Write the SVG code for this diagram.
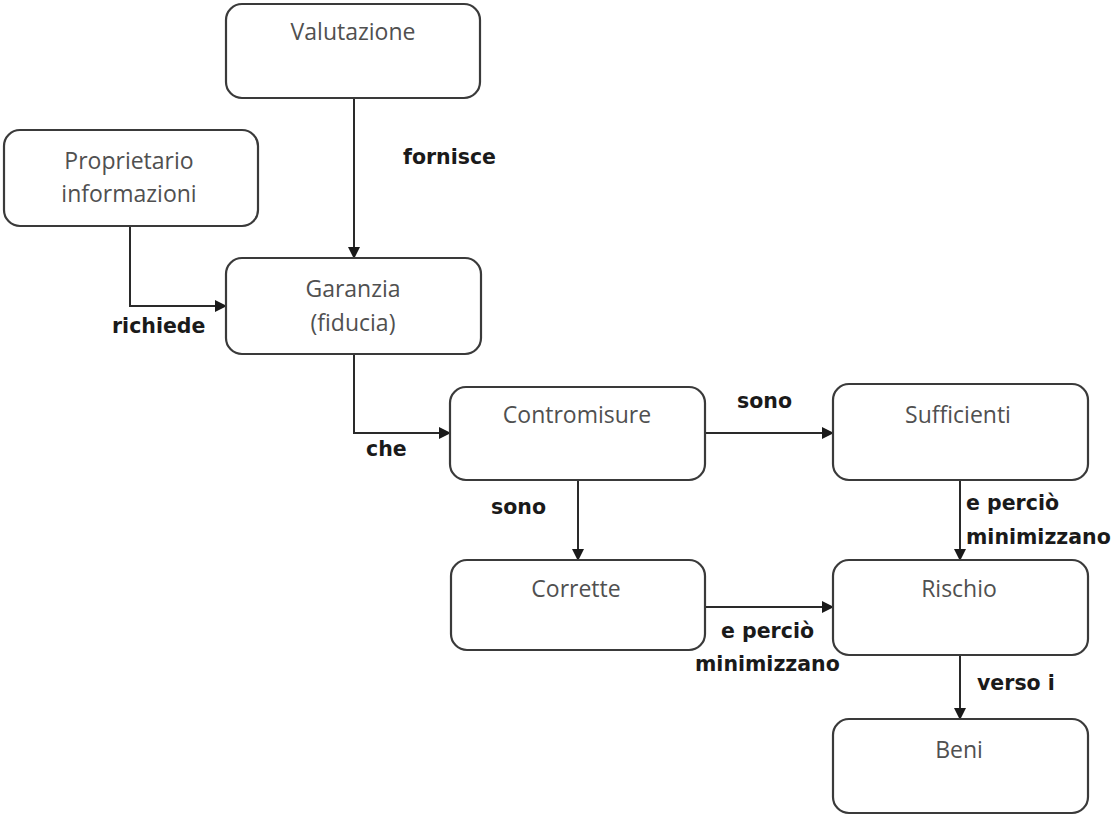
<svg xmlns="http://www.w3.org/2000/svg" width="1118" height="816" viewBox="0 0 1118 816">
<style>
.box{fill:#fff;stroke:#3a3a3a;stroke-width:2.2}
.nt{font-family:"Open Sans","Liberation Sans",sans-serif;font-size:23px;fill:#505050;text-anchor:middle}
.lb{font-family:"DejaVu Sans","Liberation Sans",sans-serif;font-weight:bold;font-size:20.5px;fill:#1a1a1a}
.cn{fill:none;stroke:#2a2a2a;stroke-width:2}
</style>
<defs>
<marker id="ah" markerUnits="userSpaceOnUse" markerWidth="12" markerHeight="12" refX="11" refY="6" orient="auto">
<path d="M0,0 L12,6 L0,12 z" fill="#1a1a1a"/>
</marker>
</defs>
<rect width="1118" height="816" fill="#fff"/>
<g id="connectors">
<path class="cn" d="M354,98 V258" marker-end="url(#ah)"/>
<path class="cn" d="M130,227 V306 H226" marker-end="url(#ah)"/>
<path class="cn" d="M354,355 V433 H450" marker-end="url(#ah)"/>
<path class="cn" d="M705,433 H833" marker-end="url(#ah)"/>
<path class="cn" d="M578,480 V560" marker-end="url(#ah)"/>
<path class="cn" d="M960,480 V560" marker-end="url(#ah)"/>
<path class="cn" d="M705,607 H833" marker-end="url(#ah)"/>
<path class="cn" d="M960,655 V719" marker-end="url(#ah)"/>
<text class="lb" x="403" y="164">fornisce</text>
<text class="lb" x="112" y="333">richiede</text>
<text class="lb" x="366" y="456">che</text>
<text class="lb" x="737" y="408">sono</text>
<text class="lb" x="491" y="514">sono</text>
<text class="lb" x="966" y="510">e perciò</text>
<text class="lb" x="966" y="544">minimizzano</text>
<text class="lb" x="721" y="638">e perciò</text>
<text class="lb" x="695" y="671">minimizzano</text>
<text class="lb" x="977" y="690">verso i</text>
</g>
<g id="valutazione">
<rect class="box" x="226" y="4" width="254" height="94" rx="16"/>
<text class="nt" x="353" y="40">Valutazione</text>
</g>
<g id="proprietario">
<rect class="box" x="4" y="130" width="254" height="96" rx="16"/>
<text class="nt" x="129" y="169">Proprietario</text>
<text class="nt" x="129" y="202">informazioni</text>
</g>
<g id="garanzia">
<rect class="box" x="226" y="258" width="255" height="96" rx="16"/>
<text class="nt" x="353" y="297">Garanzia</text>
<text class="nt" x="353" y="331">(fiducia)</text>
</g>
<g id="contromisure">
<rect class="box" x="450" y="387" width="255" height="93" rx="16"/>
<text class="nt" x="577" y="423">Contromisure</text>
</g>
<g id="sufficienti">
<rect class="box" x="833" y="384" width="255" height="96" rx="16"/>
<text class="nt" x="958" y="423">Sufficienti</text>
</g>
<g id="corrette">
<rect class="box" x="451" y="560" width="254" height="90" rx="16"/>
<text class="nt" x="576" y="597">Corrette</text>
</g>
<g id="rischio">
<rect class="box" x="833" y="560" width="255" height="95" rx="16"/>
<text class="nt" x="959" y="597">Rischio</text>
</g>
<g id="beni">
<rect class="box" x="833" y="719" width="255" height="94" rx="16"/>
<text class="nt" x="959" y="758">Beni</text>
</g>
</svg>
